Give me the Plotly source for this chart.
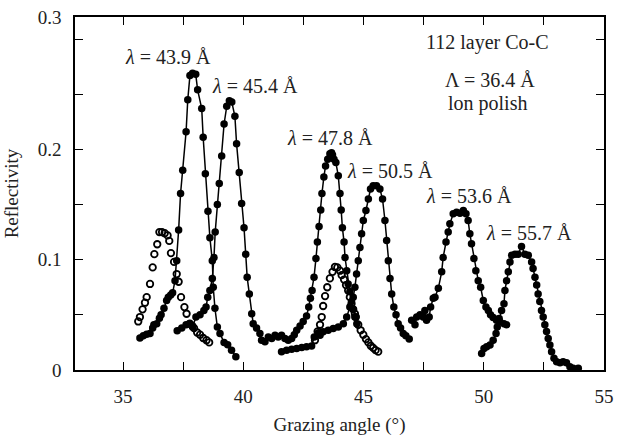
import plotly.graph_objects as go

# ---- data ----
open1_x = [35.63,35.70,35.81,35.91,35.98,36.12,36.23,36.30,36.42,36.51,36.62,36.73,36.85,36.92,36.99,37.12,37.23,37.31,37.41,37.55,37.64,37.78,37.88,37.95,38.08,38.20,38.33,38.47,38.58]
open1_y = [0.044,0.048,0.055,0.061,0.066,0.078,0.093,0.105,0.114,0.125,0.125,0.124,0.122,0.117,0.106,0.098,0.087,0.080,0.066,0.057,0.051,0.042,0.040,0.038,0.034,0.032,0.029,0.027,0.025]

open2_x = [42.98,43.09,43.19,43.26,43.32,43.40,43.49,43.60,43.71,43.81,43.91,44.02,44.09,44.19,44.27,44.36,44.43,44.50,44.57,44.64,44.68,44.78,44.88,44.99,45.10,45.20,45.30,45.40,45.50,45.61]
open2_y = [0.027,0.035,0.041,0.048,0.058,0.067,0.075,0.083,0.089,0.0934,0.093,0.090,0.086,0.082,0.077,0.072,0.066,0.060,0.055,0.051,0.048,0.041,0.036,0.032,0.028,0.025,0.022,0.020,0.018,0.0166]

l439_x = [35.70,35.84,35.98,36.12,36.23,36.28,36.40,36.51,36.58,36.70,36.81,36.88,36.98,37.06,37.16,37.23,37.31,37.39,37.48,37.62,37.69,37.78,37.89,38.02,38.10,38.27,38.33,38.42,38.53,38.61,38.71,38.75,38.82,38.92,39.03,39.20,39.35,39.51,39.69]
l439_y = [0.029,0.031,0.0325,0.033,0.038,0.041,0.042,0.047,0.050,0.056,0.063,0.066,0.068,0.070,0.081,0.099,0.127,0.160,0.181,0.216,0.245,0.267,0.269,0.268,0.254,0.237,0.211,0.178,0.144,0.120,0.099,0.075,0.056,0.039,0.033,0.025,0.023,0.018,0.012]

l454_x = [37.25,37.44,37.62,37.75,37.89,38.03,38.20,38.36,38.45,38.52,38.61,38.71,38.78,38.83,38.92,39.00,39.10,39.20,39.31,39.42,39.52,39.65,39.72,39.83,39.93,40.03,40.10,40.16,40.25,40.35,40.41,40.55,40.69,40.76,40.90]
l454_y = [0.0355,0.038,0.041,0.042,0.039,0.048,0.050,0.054,0.057,0.066,0.072,0.083,0.102,0.125,0.150,0.169,0.194,0.223,0.239,0.244,0.243,0.230,0.205,0.179,0.151,0.129,0.105,0.084,0.069,0.051,0.042,0.038,0.033,0.027,0.0256]

l478_x = [41.04,41.18,41.32,41.45,41.59,41.73,41.87,42.01,42.12,42.22,42.36,42.49,42.63,42.72,42.79,42.86,42.94,43.02,43.08,43.15,43.22,43.27,43.35,43.42,43.51,43.60,43.67,43.71,43.77,43.85,43.95,44.02,44.07,44.12,44.19,44.23,44.30,44.36,44.43,44.50,44.57,44.64,44.72]
l478_y = [0.030,0.0286,0.0316,0.030,0.0316,0.0286,0.027,0.0286,0.032,0.036,0.040,0.044,0.049,0.057,0.065,0.072,0.084,0.101,0.116,0.130,0.145,0.160,0.175,0.185,0.191,0.196,0.197,0.195,0.191,0.188,0.176,0.160,0.145,0.129,0.116,0.102,0.090,0.078,0.071,0.062,0.055,0.048,0.042]

l505_x = [41.59,41.80,42.01,42.22,42.43,42.63,42.84,42.95,43.12,43.19,43.32,43.53,43.74,43.95,44.16,44.30,44.43,44.57,44.64,44.71,44.78,44.85,44.92,44.99,45.10,45.20,45.29,45.40,45.54,45.68,45.79,45.89,45.96,46.03,46.10,46.17,46.26,46.35,46.44,46.54,46.65,46.76,46.90]
l505_y = [0.0166,0.018,0.0187,0.0196,0.0205,0.021,0.0217,0.030,0.0337,0.0316,0.0346,0.036,0.0377,0.039,0.042,0.048,0.057,0.066,0.075,0.087,0.099,0.111,0.1235,0.1355,0.1446,0.155,0.164,0.167,0.167,0.164,0.155,0.1355,0.1175,0.099,0.083,0.069,0.057,0.050,0.042,0.038,0.033,0.031,0.028]

l536_x = [47.00,47.14,47.21,47.35,47.48,47.55,47.62,47.73,47.79,47.90,47.97,48.11,48.25,48.31,48.43,48.52,48.59,48.73,48.87,49.01,49.15,49.26,49.35,49.42,49.49,49.59,49.67,49.77,49.87,49.98,50.09,50.19,50.28,50.39,50.53,50.67,50.84,50.95]
l536_y = [0.045,0.041,0.048,0.050,0.048,0.054,0.045,0.048,0.057,0.065,0.066,0.074,0.089,0.102,0.116,0.125,0.1326,0.1416,0.143,0.142,0.1446,0.1416,0.1355,0.1235,0.1145,0.101,0.090,0.081,0.075,0.063,0.057,0.054,0.050,0.0476,0.045,0.0437,0.042,0.041]

l557_x = [49.91,50.01,50.12,50.26,50.39,50.51,50.56,50.64,50.74,50.84,50.88,50.95,51.02,51.09,51.16,51.30,51.43,51.57,51.71,51.85,51.99,52.05,52.13,52.20,52.26,52.33,52.40,52.47,52.54,52.61,52.68,52.75,52.82,52.92,53.03,53.17,53.30,53.44,53.58,53.72,53.93]
l557_y = [0.015,0.0196,0.021,0.0226,0.027,0.033,0.039,0.0467,0.054,0.060,0.072,0.081,0.089,0.098,0.104,0.105,0.105,0.112,0.105,0.104,0.098,0.092,0.084,0.077,0.069,0.062,0.054,0.048,0.041,0.035,0.0286,0.0226,0.0166,0.0106,0.0075,0.0066,0.0075,0.0066,0.003,0.0015,0.0015]

x_tick_vals = [35, 40, 45, 50, 55]
x_minor_vals = [37.5, 42.5, 47.5, 52.5]
y_tick_vals = [0, 0.1, 0.2, 0.32]
y_tick_text = ["0", "0.1", "0.2", "0.3"]
y_minor_vals = [0.05, 0.15, 0.25, 0.30]

peak_labels = ["43.9", "45.4", "47.8", "50.5", "53.6", "55.7"]
peak_label_x = [36.87, 40.48, 43.60, 46.10, 49.38, 51.88]
peak_label_y = [0.284, 0.2575, 0.2105, 0.180, 0.158, 0.124]

FONT = "Liberation Serif"
TXT = "#222222"

fig = go.Figure()

filled = [(l439_x, l439_y), (l454_x, l454_y), (l478_x, l478_y),
          (l505_x, l505_y), (l536_x, l536_y), (l557_x, l557_y)]
for xs, ys in filled:
    fig.add_trace(go.Scatter(x=xs, y=ys, mode="lines+markers",
                             line=dict(color="black", width=1.5),
                             marker=dict(symbol="circle", size=7.5, color="black"),
                             showlegend=False, hoverinfo="skip"))

for xs, ys in [(open1_x, open1_y), (open2_x, open2_y)]:
    fig.add_trace(go.Scatter(x=xs, y=ys, mode="markers",
                             marker=dict(symbol="circle-open", size=6.5,
                                         color="black", line=dict(width=1.8)),
                             showlegend=False, hoverinfo="skip"))

for lab, lx, ly in zip(peak_labels, peak_label_x, peak_label_y):
    fig.add_annotation(x=lx, y=ly, xref="x", yref="y",
                       text="<i>λ</i> = " + lab + " Å", showarrow=False,
                       font=dict(family=FONT, size=20, color=TXT))

fig.add_annotation(x=50.17, y=0.2965, xref="x", yref="y", text="112 layer Co-C",
                   showarrow=False, font=dict(family=FONT, size=20, color=TXT))
fig.add_annotation(x=50.26, y=0.263, xref="x", yref="y", text="Λ = 36.4 Å",
                   showarrow=False, font=dict(family=FONT, size=20, color=TXT))
fig.add_annotation(x=50.17, y=0.242, xref="x", yref="y", text="lon polish",
                   showarrow=False, font=dict(family=FONT, size=20, color=TXT))

fig.update_layout(
    width=618, height=436,
    margin=dict(l=75, r=14, t=17, b=66),
    paper_bgcolor="white", plot_bgcolor="white",
    font=dict(family=FONT, size=19, color=TXT),
    xaxis=dict(range=[33, 55], tickvals=x_tick_vals, ticks="inside", ticklen=8,
               tickwidth=1.2, tickcolor="black", mirror="ticks", showline=True,
               linecolor="black", linewidth=1.5, showgrid=False, zeroline=False,
               ticklabelstandoff=8, automargin=False,
               tickfont=dict(family=FONT, size=19, color=TXT),
               minor=dict(tickvals=x_minor_vals, ticks="inside", ticklen=8,
                          tickwidth=1.2, tickcolor="black", showgrid=False),
               title=dict(text="Grazing angle (°)", standoff=14,
                          font=dict(family=FONT, size=19, color=TXT))),
    yaxis=dict(range=[0, 0.32], tickvals=y_tick_vals, ticktext=y_tick_text,
               ticks="inside", ticklen=8, tickwidth=1.2, tickcolor="black",
               mirror="ticks", showline=True, linecolor="black", linewidth=1.5,
               showgrid=False, zeroline=False, ticklabelstandoff=8,
               automargin=False,
               tickfont=dict(family=FONT, size=19, color=TXT),
               minor=dict(tickvals=y_minor_vals, ticks="inside", ticklen=8,
                          tickwidth=1.2, tickcolor="black", showgrid=False),
               title=dict(text="Reflectivity", standoff=14,
                          font=dict(family=FONT, size=19, color=TXT))),
)

fig.write_html("out.html")
